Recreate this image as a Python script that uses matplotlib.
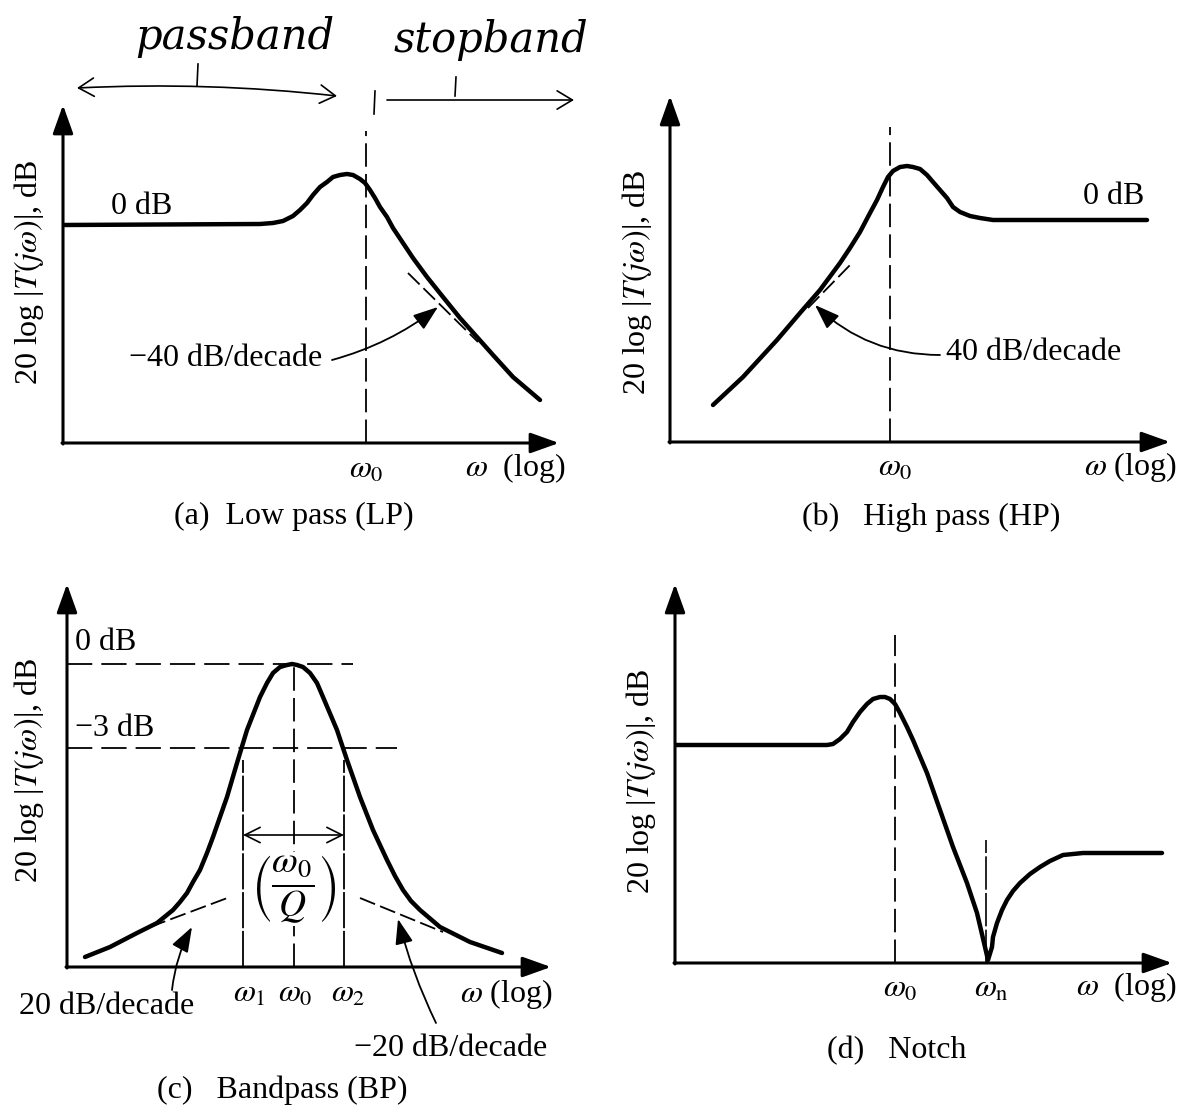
import numpy as np
import matplotlib
matplotlib.use("Agg")
import matplotlib.pyplot as plt

plt.rcParams['font.family'] = ['Liberation Serif', 'DejaVu Serif']
plt.rcParams['mathtext.fontset'] = 'stix'

W, H = 1187, 1117

# curve points, in pixels from each panel's origin
lp_x = [0, 197, 210, 220, 230, 237, 244, 250, 257, 264, 270, 277, 284, 290,
        297, 302, 307, 312, 317, 324, 330, 340, 350, 364, 380, 397, 414, 430,
        450, 477]
lp_y = [218, 219, 220, 222, 227, 233, 240, 248, 256, 261, 266, 268, 269, 268,
        264, 260, 253, 245, 236, 226, 215, 200, 185, 166, 146, 125, 106, 88,
        66, 43]

hp_x = [43, 73, 107, 130, 150, 170, 180, 190, 200, 207, 213, 218, 223, 230,
        237, 243, 250, 257, 263, 270, 277, 283, 290, 300, 310, 323, 379, 477]
hp_y = [37, 65, 102, 129, 152, 179, 194, 210, 229, 242, 255, 265, 271, 275,
        276, 275, 273, 267, 260, 252, 244, 235, 230, 226, 224, 222, 222, 222]

bp_x = [18, 43, 70, 90, 106, 113, 120, 126, 133, 140, 146, 160, 170, 180,
        193, 200, 206, 213, 220, 225, 230, 236, 243, 250, 256, 270, 280, 293,
        306, 320, 328, 336, 344, 353, 373, 403, 435]
bp_y = [10, 20, 34, 44, 57, 65, 74, 85, 97, 114, 130, 170, 204, 237,
        270, 284, 294, 300, 302, 303, 302, 300, 294, 284, 270, 237, 207, 170,
        137, 107, 91, 77, 66, 57, 40, 25, 14]

notch_x = [0, 152, 158, 165, 172, 178, 185, 192, 198, 205, 210, 215, 220,
           225, 232, 238, 252, 265, 278, 292, 302, 310, 313, 317, 318, 322,
           327, 332, 338, 345, 355, 365, 375, 388, 398, 408, 487]
notch_y = [218, 218, 219, 224, 231, 241, 251, 259, 264, 266, 266, 264, 259,
           250, 236, 223, 190, 153, 116, 80, 50, 16, 3, 16, 26, 40,
           53, 63, 72, 80, 89, 96, 102, 108, 109, 110, 110]

# asymptote segments
lp_asym = ([345, 415], [170, 101])
hp_asym = ([138, 183], [134, 180])
bp_asym_l = ([83, 163], [40, 70])
bp_asym_r = ([293, 376], [69, 35])

# frequency marks
lp_w0 = 303
hp_w0 = 220
bp_w1, bp_w0, bp_w2 = 176, 227, 277
bp_0db, bp_3db = 303, 219
notch_w0, notch_wn = 220, 311

FS = 23
CURVE = dict(color='k', lw=3.2, solid_capstyle='round', solid_joinstyle='round')
DASH = dict(color='k', lw=1.3, linestyle=(0, (13, 4)))
POINTER = dict(arrowstyle='-|>,head_length=0.7,head_width=0.25', color='k',
               lw=1.3, mutation_scale=22, shrinkA=0, shrinkB=0)

fig = plt.figure(figsize=(W / 100, H / 100), dpi=100)


def panel(ox, oy, tx, ty):
    ax = fig.add_axes([ox / W, 1 - oy / H, (tx - ox) / W, (oy - ty) / H])
    w, h = tx - ox, oy - ty
    ax.set_xlim(0, w)
    ax.set_ylim(0, h)
    ax.axis('off')
    head = dict(arrowstyle='-|>,head_length=0.7,head_width=0.25', color='k',
                lw=2.2, mutation_scale=25, shrinkA=0, shrinkB=0)
    ax.annotate('', xy=(0, h), xytext=(0, -1), arrowprops=head, annotation_clip=False)
    ax.annotate('', xy=(w, 0), xytext=(-1, 0), arrowprops=head, annotation_clip=False)
    return ax


def ylabel(ax, x, y):
    ax.text(x, y, r'20 log |$T(j\omega)$|, dB', rotation=90, ha='center',
            va='center', fontsize=FS)


# (a) low pass
ax = panel(63, 443, 559, 105)
ax.plot(lp_x, lp_y, **CURVE)
ax.plot([lp_w0, lp_w0], [0, 312], **DASH)
ax.plot(*lp_asym, color='k', lw=1.3, linestyle=(0, (9, 3)))
ax.annotate('', xy=(375, 136), xytext=(269, 83),
            arrowprops=dict(POINTER, connectionstyle='arc3,rad=0.1'))
ax.text(259, 85, '\u221240 dB/decade', ha='right', va='center', fontsize=FS)
ax.text(48, 236, '0 dB', ha='left', va='center', fontsize=FS)
ax.text(lp_w0, -27, r'$\omega_0$', ha='center', va='center', fontsize=FS)
ax.text(503, -25, r'$\omega$  (log)', ha='right', va='center', fontsize=FS)
ax.text(231, -73, '(a)  Low pass (LP)', ha='center', va='center', fontsize=FS)
ylabel(ax, -34, 171)
# handwritten notes
hand = dict(fontsize=30, style='italic', family='DejaVu Serif', ha='center', va='center')
ax.text(172, 406, 'passband', **hand)
ax.text(428, 403, 'stopband', **hand)
ax.annotate('', xy=(14, 355), xytext=(274, 347), annotation_clip=False,
            arrowprops=dict(arrowstyle='<->,head_length=0.5,head_width=0.3', color='k',
                            lw=1.2, mutation_scale=22, shrinkA=0, shrinkB=0,
                            connectionstyle='arc3,rad=0.04'))
ax.annotate('', xy=(511, 343), xytext=(324, 343), annotation_clip=False,
            arrowprops=dict(arrowstyle='->,head_length=0.5,head_width=0.3', color='k',
                            lw=1.2, mutation_scale=22, shrinkA=0, shrinkB=0))
ax.plot([134, 135], [357, 379], color='k', lw=1.2, clip_on=False)
ax.plot([392, 393], [347, 366], color='k', lw=1.2, clip_on=False)
ax.plot([311, 312], [329, 352], color='k', lw=1.2, clip_on=False)

# (b) high pass
ax = panel(670, 442, 1170, 96)
ax.plot(hp_x, hp_y, **CURVE)
ax.plot([hp_w0, hp_w0], [0, 315], **DASH)
ax.plot(*hp_asym, color='k', lw=1.3, linestyle=(0, (9, 3)))
ax.annotate('', xy=(145, 137), xytext=(270, 87),
            arrowprops=dict(POINTER, connectionstyle='arc3,rad=-0.2'))
ax.text(276, 89, '40 dB/decade', ha='left', va='center', fontsize=FS)
ax.text(413, 246, '0 dB', ha='left', va='center', fontsize=FS)
ax.text(225, -26, r'$\omega_0$', ha='center', va='center', fontsize=FS)
ax.text(507, -25, r'$\omega$ (log)', ha='right', va='center', fontsize=FS)
ax.text(261, -75, '(b)   High pass (HP)', ha='center', va='center', fontsize=FS)
ylabel(ax, -33, 160)

# (c) bandpass
ax = panel(67, 967, 551, 584)
ax.plot(bp_x, bp_y, **CURVE)
ax.plot([0, 286], [bp_0db, bp_0db], color='k', lw=1.3, linestyle=(0, (14, 5)))
ax.plot([0, 330], [bp_3db, bp_3db], color='k', lw=1.3, linestyle=(0, (14, 5)))
ax.plot([bp_w0, bp_w0], [0, bp_0db], **DASH)
ax.plot([bp_w1, bp_w1], [0, 207], color='k', lw=1.3, linestyle=(0, (20, 1.5)))
ax.plot([bp_w2, bp_w2], [0, 207], color='k', lw=1.3, linestyle=(0, (20, 1.5)))
ax.annotate('', xy=(bp_w1, 132), xytext=(bp_w2, 132),
            arrowprops=dict(arrowstyle='<->,head_length=0.5,head_width=0.25',
                            color='k', lw=1.2, mutation_scale=22, shrinkA=0, shrinkB=0))
ax.text(bp_w0, 78, r'$\left(\dfrac{\omega_0}{Q}\right)$', ha='center', va='center',
        fontsize=27, bbox=dict(facecolor='white', edgecolor='none', pad=1))
ax.plot(*bp_asym_l, color='k', lw=1.3, linestyle=(0, (9, 3)))
ax.plot(*bp_asym_r, color='k', lw=1.3, linestyle=(0, (9, 3)))
ax.annotate('', xy=(125, 40), xytext=(105, -23),
            arrowprops=dict(POINTER, connectionstyle='arc3,rad=-0.1'), annotation_clip=False)
ax.annotate('', xy=(331, 48), xytext=(369, -56),
            arrowprops=dict(POINTER, connectionstyle='arc3,rad=-0.05'), annotation_clip=False)
ax.text(-48, -39, '20 dB/decade', ha='left', va='center', fontsize=FS)
ax.text(287, -81, '\u221220 dB/decade', ha='left', va='center', fontsize=FS)
ax.text(8, 325, '0 dB', ha='left', va='center', fontsize=FS)
ax.text(8, 238, '\u22123 dB', ha='left', va='center', fontsize=FS)
ax.text(bp_w1 + 6, -27, r'$\omega_1$', ha='center', va='center', fontsize=FS)
ax.text(bp_w0 + 1, -27, r'$\omega_0$', ha='center', va='center', fontsize=FS)
ax.text(bp_w2 + 4, -27, r'$\omega_2$', ha='center', va='center', fontsize=FS)
ax.text(486, -27, r'$\omega$ (log)', ha='right', va='center', fontsize=FS)
ax.text(215, -123, '(c)   Bandpass (BP)', ha='center', va='center', fontsize=FS)
ylabel(ax, -38, 197)

# (d) notch
ax = panel(675, 963, 1172, 584)
ax.plot(notch_x, notch_y, **CURVE)
ax.plot([notch_w0, notch_w0], [0, 328], **DASH)
ax.plot([notch_wn, notch_wn], [0, 123], color='k', lw=1.2, linestyle=(0, (20, 2)))
ax.text(225, -26, r'$\omega_0$', ha='center', va='center', fontsize=FS)
ax.text(316, -26, r'$\omega_{\rm n}$', ha='center', va='center', fontsize=FS)
ax.text(502, -24, r'$\omega$  (log)', ha='right', va='center', fontsize=FS)
ax.text(222, -88, '(d)   Notch', ha='center', va='center', fontsize=FS)
ylabel(ax, -34, 182)

fig.savefig('out.png', dpi=100, facecolor='white')
